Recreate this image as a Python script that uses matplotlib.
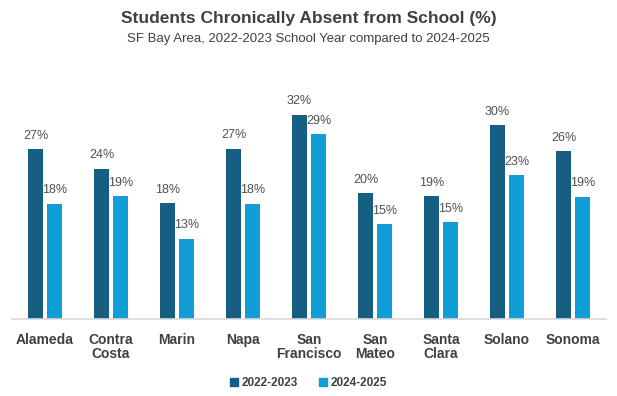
import numpy as np
import matplotlib
matplotlib.use('Agg')
import matplotlib.pyplot as plt
from matplotlib.patches import Patch

plt.rcParams['font.family'] = ['Liberation Sans', 'DejaVu Sans']

counties = ['Alameda', 'Contra\nCosta', 'Marin', 'Napa', 'San\nFrancisco',
            'San\nMateo', 'Santa\nClara', 'Solano', 'Sonoma']
absent_2022 = [26.7, 23.7, 18.2, 26.8, 32.2, 19.8, 19.3, 30.5, 26.4]
absent_2024 = [18.1, 19.3, 12.6, 18.1, 29.1, 14.9, 15.2, 22.6, 19.2]
labels_2022 = ['27%', '24%', '18%', '27%', '32%', '20%', '19%', '30%', '26%']
labels_2024 = ['18%', '19%', '13%', '18%', '29%', '15%', '15%', '23%', '19%']

C_DARK = '#165E82'
C_LIGHT = '#119ED6'
TXT = '#404040'

fig = plt.figure(figsize=(6.17, 3.96), dpi=100)
ax = fig.add_axes([12/617, 1 - 319/396, 594/617, 254/396])

x = np.arange(len(counties))
w = 0.227
off = 0.144
b1 = ax.bar(x - off, absent_2022, w, color=C_DARK)
b2 = ax.bar(x + off, absent_2024, w, color=C_LIGHT)

# data labels above each bar
for bars, labs in [(b1, labels_2022), (b2, labels_2024)]:
    for rect, lab in zip(bars, labs):
        ax.annotate(lab, (rect.get_x() + rect.get_width() / 2, rect.get_height()),
                    xytext=(0, 5.5), textcoords='offset points', ha='center', va='bottom',
                    fontsize=9, color='#505050')

ax.set_xlim(-0.5, len(counties) - 0.5)
ax.set_ylim(0, 40)
ax.set_xticks(x)
ax.set_xticklabels(counties, fontsize=10, fontweight='bold', color=TXT, linespacing=1.0)
ax.tick_params(axis='x', length=0, pad=10)
ax.set_yticks([])
for s in ['top', 'right', 'left']:
    ax.spines[s].set_visible(False)
ax.spines['bottom'].set_color('#D9D9D9')
ax.spines['bottom'].set_linewidth(1.2)

fig.text(0.5, 1 - 19/396, 'Students Chronically Absent from School (%)', ha='center', va='center',
         fontsize=12.5, fontweight='bold', color=TXT)
fig.text(0.5, 1 - 39/396, 'SF Bay Area, 2022-2023 School Year compared to 2024-2025', ha='center',
         va='center', fontsize=9.5, color=TXT)

handles = [Patch(color=C_DARK, label='2022-2023'), Patch(color=C_LIGHT, label='2024-2025')]
leg = fig.legend(handles=handles, loc='center', bbox_to_anchor=(0.5, 1 - 383/396), ncol=2,
                 frameon=False, fontsize=8.5, handlelength=0.7, handleheight=0.7,
                 handletextpad=0.3, columnspacing=1.8)
for t in leg.get_texts():
    t.set_color(TXT)
    t.set_fontweight('bold')

fig.savefig('out.png', dpi=100)
